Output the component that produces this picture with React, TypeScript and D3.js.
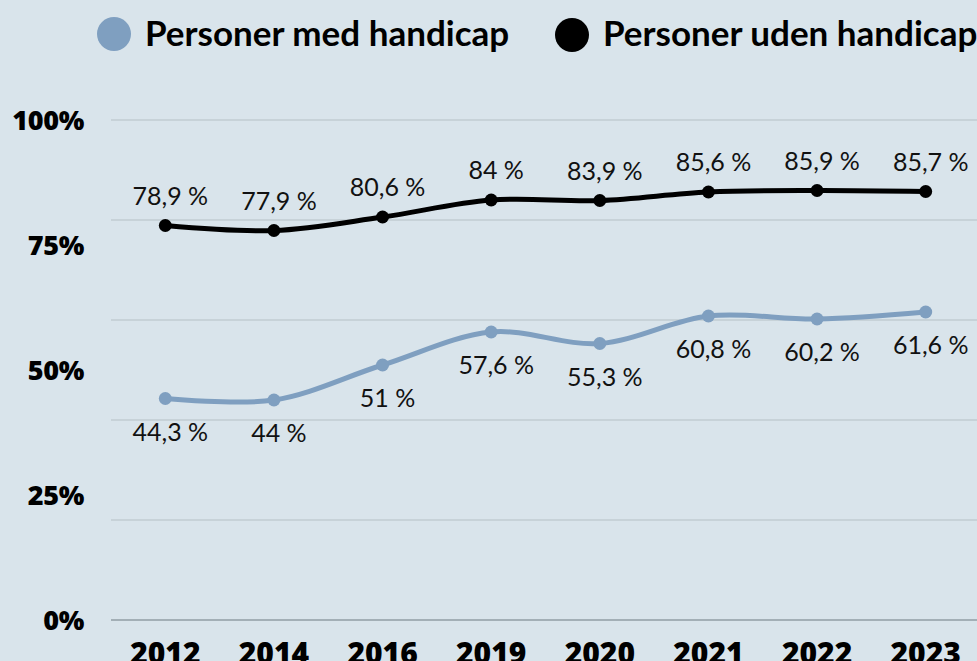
import React from "react";
import * as d3 from "d3";

const years = ["2012", "2014", "2016", "2019", "2020", "2021", "2022", "2023"];
const withDisability = [44.3, 44, 51, 57.6, 55.3, 60.8, 60.2, 61.6];
const withoutDisability = [78.9, 77.9, 80.6, 84, 83.9, 85.6, 85.9, 85.7];
const yTickLabels = [0, 25, 50, 75, 100];
const gridValues = [0, 20, 40, 60, 80, 100];
const seriesNames = ["Personer med handicap", "Personer uden handicap"];
const seriesColors = ["#7f9fc0", "#000000"];

const W = 977;
const H = 661;

function fmt(v: number) {
  return String(v).replace(".", ",") + " %";
}

export default function App() {
  const x = d3.scaleBand<string>().domain(years).range([111, 980]);
  const y = d3.scaleLinear().domain([0, 100]).range([620, 120]);
  const cx = (d: string) => (x(d) as number) + x.bandwidth() / 2;
  const line = d3
    .line<number>()
    .x((_, i) => cx(years[i]))
    .y((v) => y(v))
    .curve(d3.curveCatmullRom.alpha(0.5));

  const series = [withDisability, withoutDisability];
  const labelFont = "Lato, 'Noto Sans', sans-serif";
  const boldFont = "'Open Sans', Lato, sans-serif";

  return (
    <svg
      width={W}
      height={H}
      style={{ position: "absolute", left: 0, top: 0, background: "#d9e4eb" }}
    >
      <rect x={0} y={0} width={W} height={H} fill="#d9e4eb" />
      {gridValues.map((g) => (
        <line
          key={g}
          x1={111}
          x2={W}
          y1={y(g)}
          y2={y(g)}
          stroke={g === 0 ? "#6f7a82" : "#b5bfc6"}
          strokeWidth={1.2}
        />
      ))}
      {yTickLabels.map((t) => (
        <text
          key={t}
          x={84}
          y={y(t)}
          dy="0.36em"
          textAnchor="end"
          fontFamily={boldFont}
          fontWeight={800}
          fontSize={27}
          letterSpacing={-0.3}
          fill="#000"
        >
          {t}%
        </text>
      ))}
      {years.map((yr) => (
        <text
          key={yr}
          x={cx(yr)}
          y={664}
          textAnchor="middle"
          fontFamily={boldFont}
          fontWeight={800}
          fontSize={30}
          fill="#000"
        >
          {yr}
        </text>
      ))}
      {series.map((s, si) => (
        <g key={si}>
          <path
            d={line(s) || ""}
            fill="none"
            stroke={seriesColors[si]}
            strokeWidth={5}
            strokeLinejoin="round"
          />
          {s.map((v, i) => (
            <circle
              key={i}
              cx={cx(years[i])}
              cy={y(v)}
              r={6.5}
              fill={seriesColors[si]}
            />
          ))}
          {s.map((v, i) => (
            <text
              key={"t" + i}
              x={cx(years[i]) + 5}
              y={si === 1 ? y(v) - 21 : y(v) + 42}
              textAnchor="middle"
              fontFamily={labelFont}
              fontSize={25}
              fill="#111"
            >
              {fmt(v)}
            </text>
          ))}
        </g>
      ))}
      <circle cx={114} cy={34} r={17} fill={seriesColors[0]} />
      <text
        x={145}
        y={46}
        fontFamily={labelFont}
        fontWeight={700}
        fontSize={35}
        fill="#000"
      >
        {seriesNames[0]}
      </text>
      <circle cx={572} cy={35} r={17} fill={seriesColors[1]} />
      <text
        x={603}
        y={46}
        fontFamily={labelFont}
        fontWeight={700}
        fontSize={35}
        fill="#000"
      >
        {seriesNames[1]}
      </text>
    </svg>
  );
}
